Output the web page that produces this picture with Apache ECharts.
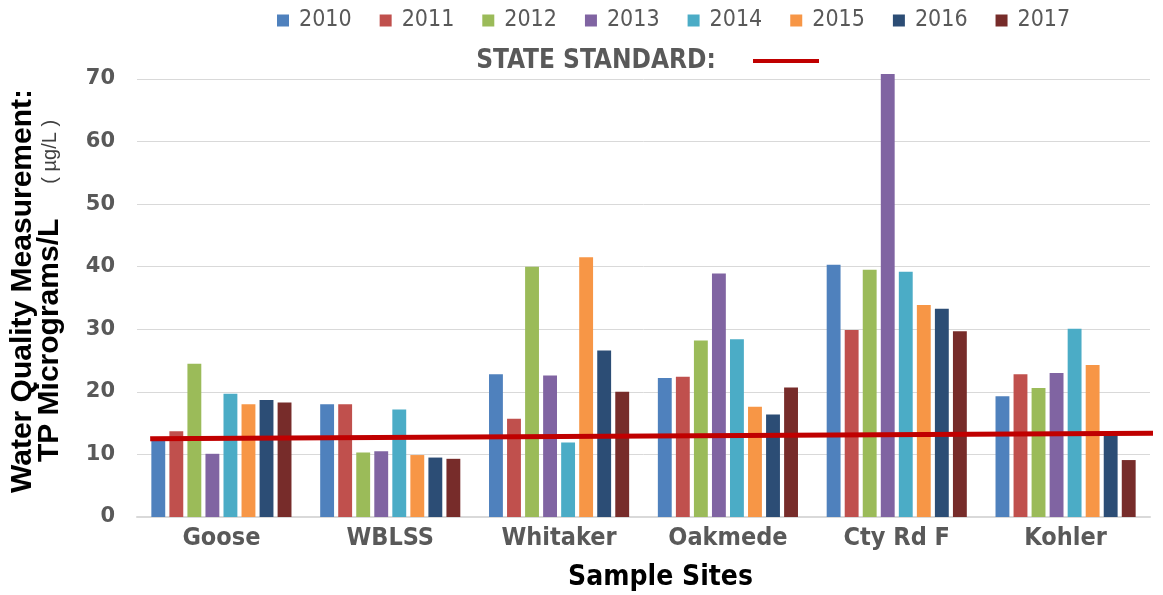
<!DOCTYPE html>
<html>
<head>
<meta charset="utf-8">
<script src="https://cdn.jsdelivr.net/npm/echarts@6/dist/echarts.min.js"></script>
<style>
html,body{margin:0;padding:0;background:#fff;}
#chart{width:1163px;height:595px;}
</style>
</head>
<body>
<div id="chart"></div>
<script>
var sites = ['Goose', 'WBLSS', 'Whitaker', 'Oakmede', 'Cty Rd F', 'Kohler'];
var years = ['2010', '2011', '2012', '2013', '2014', '2015', '2016', '2017'];
var v2010 = [12.6, 18.0, 22.8, 22.2, 40.3, 19.3];
var v2011 = [13.7, 18.0, 15.7, 22.4, 29.9, 22.8];
var v2012 = [24.5, 10.3, 40.0, 28.2, 39.5, 20.6];
var v2013 = [10.1, 10.5, 22.6, 38.9, 70.8, 23.0];
var v2014 = [19.7, 17.2, 11.9, 28.4, 39.2, 30.1];
var v2015 = [18.0, 9.9, 41.5, 17.6, 33.9, 24.3];
var v2016 = [18.7, 9.5, 26.6, 16.4, 33.3, 13.2];
var v2017 = [18.3, 9.3, 20.0, 20.7, 29.7, 9.1];
var yearValues = [v2010, v2011, v2012, v2013, v2014, v2015, v2016, v2017];
var yearColors = ['#4f81bd', '#c0504d', '#9bbb59', '#8064a2', '#4bacc6', '#f79646', '#2c4d75', '#772c2a'];
// State standard line (fraction of plot width, value)
var standardX = [0.013, 1.008];
var standardY = [12.5, 13.4];
var yTicks = [0, 10, 20, 30, 40, 50, 60, 70];

var NARROW = "'Liberation Sans Narrow', 'DejaVu Sans Condensed', 'Liberation Sans', sans-serif";

var series = years.map(function (y, i) {
  return {
    name: y,
    type: 'bar',
    data: yearValues[i],
    itemStyle: { color: yearColors[i] },
    barCategoryGap: '17%',
    barGap: '30%',
    clip: false,
    xAxisIndex: 0
  };
});
series.push({
  name: 'STATE STANDARD',
  type: 'line',
  xAxisIndex: 1,
  data: standardX.map(function (x, i) { return [x, standardY[i]]; }),
  symbol: 'none',
  lineStyle: { color: '#c00000', width: 5 },
  clip: false,
  z: 10,
  silent: true
});

var chart = echarts.init(document.getElementById('chart'));
chart.setOption({
  animation: false,
  backgroundColor: '#fff',
  grid: { left: 137, right: 13, top: 79, bottom: 78, outerBoundsMode: 'none', containLabel: false },
  legend: {
    data: years,
    left: 272,
    top: 4,
    width: 880,
    itemWidth: 12,
    itemHeight: 12,
    itemGap: 28,
    icon: 'rect',
    textStyle: { fontFamily: NARROW, fontSize: 23, color: '#595959', padding: [0, 0, 0, 5] }
  },
  xAxis: [{
    type: 'category',
    data: sites,
    axisLine: { lineStyle: { color: '#d9d9d9', width: 2 } },
    axisTick: { show: false },
    axisLabel: { interval: 0, fontFamily: NARROW, fontWeight: 'bold', fontSize: 25, color: '#595959', margin: 9 },
    name: 'Sample Sites',
    nameLocation: 'middle',
    nameGap: 47,
    nameTextStyle: { fontFamily: NARROW, fontWeight: 'bold', fontSize: 28, color: '#000', padding: [0, 0, 0, 34] }
  }, {
    type: 'value',
    min: 0,
    max: 1,
    show: false
  }],
  yAxis: {
    type: 'value',
    min: yTicks[0],
    max: yTicks[yTicks.length - 1],
    interval: 10,
    axisLine: { show: false },
    axisTick: { show: false },
    splitLine: { lineStyle: { color: '#d9d9d9', width: 1 } },
    axisLabel: { fontFamily: "'DejaVu Sans', sans-serif", fontWeight: 'bold', fontSize: 21, color: '#595959', margin: 22 }
  },
  graphic: [
    {
      type: 'text',
      x: 23, y: 291,
      rotation: Math.PI / 2,
      style: {
        text: 'Water Quality Measurement:',
        fontFamily: "'Liberation Sans', Arial, sans-serif",
        fontWeight: 'bold',
        fontSize: 30,
        fill: '#000',
        align: 'center',
        verticalAlign: 'middle'
      }
    },
    {
      type: 'text',
      x: 50, y: 291,
      rotation: Math.PI / 2,
      style: {
        text: '{a|TP Micrograms/L}{b|( µg/L )}',
        align: 'center',
        verticalAlign: 'middle',
        rich: {
          a: { fontFamily: "'Liberation Sans', Arial, sans-serif", fontWeight: 'bold', fontSize: 30, fill: '#000', color: '#000', verticalAlign: 'middle' },
          b: { fontFamily: "'Liberation Sans', Arial, sans-serif", fontSize: 20, fill: '#404040', color: '#404040', padding: [0, 0, 0, 35], verticalAlign: 'middle' }
        }
      }
    },
    {
      type: 'text',
      x: 596, y: 61,
      style: {
        text: 'STATE STANDARD:',
        fontFamily: NARROW,
        fontWeight: 'bold',
        fontSize: 26,
        fill: '#595959',
        align: 'center',
        verticalAlign: 'middle'
      }
    },
    {
      type: 'line',
      shape: { x1: 753, y1: 61, x2: 819, y2: 61 },
      style: { stroke: '#c00000', lineWidth: 4 }
    }
  ],
  series: series
});
</script>
</body>
</html>
